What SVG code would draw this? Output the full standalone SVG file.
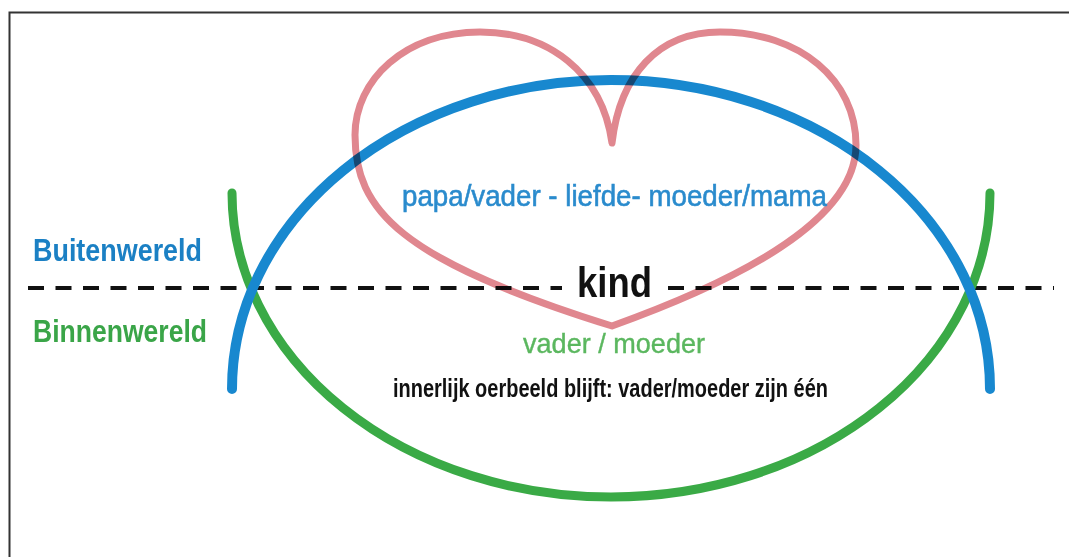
<svg xmlns="http://www.w3.org/2000/svg" width="1069" height="557" viewBox="0 0 1069 557">
  <style>
    .lbl { font-family: "Liberation Sans Narrow", "Liberation Sans", "DejaVu Sans Condensed", sans-serif; }
    .b { font-weight: bold; }
    .curve { fill: none; stroke-linecap: round; }
    .dash { stroke: #111; stroke-width: 4; stroke-dasharray: 16 11.5; fill: none; }
  </style>
  <rect x="0" y="0" width="1069" height="557" fill="#ffffff"/>
  <rect id="frame" x="9.5" y="12.5" width="1100" height="600" fill="none" stroke="#333" stroke-width="2"/>

  <g id="connectors">
    <path id="divider-left" class="dash" d="M 28 288 H 562"/>
    <path id="divider-right" class="dash" d="M 668 288 H 1054"/>
    <path id="binnen-arc" class="curve" stroke="#3aaa46" stroke-width="9" d="M 232 193 A 379 304 0 0 0 990 193"/>
    <path id="buiten-arc" class="curve" stroke="#1888cf" stroke-width="10" d="M 232 389 A 379 309 0 0 1 990 389"/>
    <path id="heart" class="curve" stroke="#e0878f" stroke-width="7" stroke-linejoin="round" style="mix-blend-mode:multiply"
      d="M 612 143 C 602 72 548 32 480 32 C 405 32 355 80 355 135 C 355 210 400 260 612 326 C 740 280 856 220 856 145 C 856 80 800 32 720 32 C 658 32 620 75 612 143 Z"/>
  </g>

  <g id="buitenwereld">
    <text class="lbl b" x="33" y="261" font-size="31" fill="#1b80c4" textLength="169" lengthAdjust="spacingAndGlyphs">Buitenwereld</text>
  </g>
  <g id="binnenwereld">
    <text class="lbl b" x="33" y="342" font-size="31" fill="#3aa548" textLength="174" lengthAdjust="spacingAndGlyphs">Binnenwereld</text>
  </g>
  <g id="liefde">
    <text class="lbl" x="402" y="206" font-size="30" fill="#2a8bcd" stroke="#2a8bcd" stroke-width="0.6" textLength="425" lengthAdjust="spacingAndGlyphs">papa/vader - liefde- moeder/mama</text>
  </g>
  <g id="kind">
    <text class="lbl b" x="577" y="297" font-size="42" fill="#111" textLength="75" lengthAdjust="spacingAndGlyphs">kind</text>
  </g>
  <g id="vader-moeder">
    <text class="lbl" x="523" y="353" font-size="28" fill="#5bb75f" stroke="#5bb75f" stroke-width="0.4" textLength="182" lengthAdjust="spacingAndGlyphs">vader / moeder</text>
  </g>
  <g id="oerbeeld">
    <text class="lbl b" x="393" y="397" font-size="26" fill="#111" textLength="435" lengthAdjust="spacingAndGlyphs">innerlijk oerbeeld blijft: vader/moeder zijn één</text>
  </g>
</svg>
